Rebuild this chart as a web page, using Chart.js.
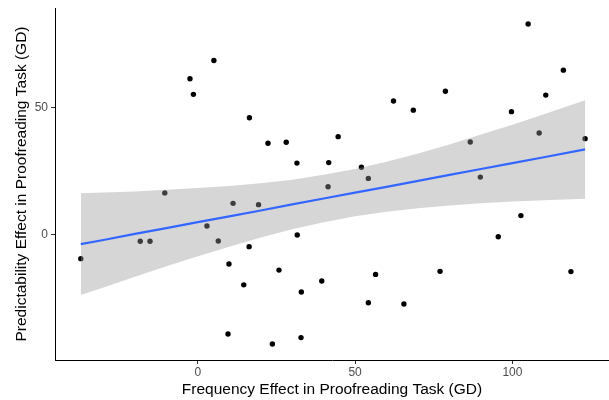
<!DOCTYPE html>
<html>
<head>
<meta charset="utf-8">
<script src="https://cdn.jsdelivr.net/npm/chart.js@4/dist/chart.umd.min.js"></script>
<style>
html,body{margin:0;padding:0;background:#fff;}
#wrap{width:609px;height:400px;}
</style>
</head>
<body>
<div id="wrap"><canvas id="c" width="609" height="400"></canvas></div>
<script>
// Observed data points (frequency effect, predictability effect)
const freqEffect = [5.1,-2.5,-1.4,16.4,22.3,28.1,31.5,41.6,-10.5,41.4,105.0,116.2,110.6,78.7,62.2,68.5,99.7,44.6,108.5,86.6,123.1,52.0,54.2,89.8,11.2,19.3,2.9,-18.3,-15.2,6.5,-37.2,31.6,16.3,9.9,25.8,14.6,32.9,39.4,9.6,23.7,32.8,56.5,54.2,65.5,77.0,95.5,102.7,118.6];
const predEffect = [68.4,61.2,55.1,45.9,35.9,36.3,28.1,28.3,16.4,18.8,82.7,64.6,54.8,56.3,52.5,48.9,48.3,38.5,39.9,36.4,37.7,26.5,22.1,22.6,12.3,11.8,3.4,-2.6,-2.6,-2.5,-9.4,-0.1,-4.7,-11.5,-13.9,-19.7,-22.5,-18.2,-39.0,-42.9,-40.4,-15.6,-26.7,-27.2,-14.4,-0.8,7.5,-14.5];

// Fitted line and confidence band
const fitX   = [-37.2,-30,-20,-10,0,10,20,30,40,50,60,70,80,90,100,110,123.1];
const fitY   = [-3.7,-2.1,0.3,2.6,4.9,7.2,9.5,11.9,14.2,16.5,18.8,21.1,23.5,25.8,28.1,30.4,33.5];
const bandLo = [-23.7,-20.7,-16.5,-12.4,-8.5,-4.7,-1.1,2.1,4.9,7.2,9.0,10.4,11.5,12.3,13.0,13.5,14.1];
const bandHi = [16.3,16.6,17.0,17.6,18.3,19.1,20.2,21.6,23.5,25.8,28.6,31.9,35.4,39.3,43.2,47.3,52.8];

const xTicks = [0,50,100];
const yTicks = [0,50];

const xTitle = 'Frequency Effect in Proofreading Task (GD)';
const yTitle = 'Predictability Effect in Proofreading Task (GD)';

const pts = freqEffect.map((x,i)=>({x:x,y:predEffect[i]}));
const toXY = (ys)=>fitX.map((x,i)=>({x:x,y:ys[i]}));

const FONT = '"Liberation Sans", Arial, Helvetica, sans-serif';

// Panel placement within the canvas
const panel = {left:55, right:609, top:8, bottom:360};

const panelPlugin = {
  id:'panelFix',
  afterLayout(chart){
    const a = chart.chartArea;
    a.left = panel.left; a.right = panel.right; a.top = panel.top; a.bottom = panel.bottom;
    a.width = a.right - a.left; a.height = a.bottom - a.top;
    const x = chart.scales.x, y = chart.scales.y;
    x.left = panel.left; x.right = panel.right; x.width = panel.right - panel.left;
    x.configure();
    y.top = panel.top; y.bottom = panel.bottom; y.height = panel.bottom - panel.top;
    y.configure();
  }
};

new Chart(document.getElementById('c'), {
  type: 'scatter',
  data: {
    datasets: [
      {label:'points', data: pts, backgroundColor:'#000', borderColor:'#000', pointRadius:2.7, pointBorderWidth:0, order:4},
      {label:'lo', data: toXY(bandLo), showLine:true, pointRadius:0, borderWidth:0, borderColor:'rgba(0,0,0,0)', fill:false, order:3},
      {label:'hi', data: toXY(bandHi), showLine:true, pointRadius:0, borderWidth:0, borderColor:'rgba(0,0,0,0)', backgroundColor:'rgba(153,153,153,0.4)', fill:'-1', order:2},
      {label:'fit', data: toXY(fitY), showLine:true, pointRadius:0, borderWidth:2.2, borderColor:'#3366FF', fill:false, order:1}
    ]
  },
  plugins:[panelPlugin],
  options: {
    responsive:false,
    animation:false,
    devicePixelRatio:1,
    layout:{padding:{top:8,left:0,right:0,bottom:0}},
    plugins:{legend:{display:false}, tooltip:{enabled:false}, filler:{propagate:false}},
    scales:{
      x:{
        type:'linear', min:-45.4, max:130.7,
        afterBuildTicks:(s)=>{ s.ticks = xTicks.map(v=>({value:v})); },
        afterFit:(s)=>{ s.height = 40; },
        grid:{drawOnChartArea:false, drawTicks:true, tickLength:4, tickColor:'#333', tickWidth:1},
        border:{display:true, color:'#000', width:1},
        ticks:{color:'#4d4d4d', font:{family:FONT, size:12}, padding:1, autoSkip:false, maxRotation:0},
        title:{display:true, text:xTitle, color:'#000', font:{family:FONT, size:15.5}, padding:{top:0,bottom:0.5}}
      },
      y:{
        type:'linear', min:-49.2, max:89.0,
        afterBuildTicks:(s)=>{ s.ticks = yTicks.map(v=>({value:v})); },
        afterFit:(s)=>{ s.width = 55; },
        grid:{drawOnChartArea:false, drawTicks:true, tickLength:4, tickColor:'#333', tickWidth:1},
        border:{display:true, color:'#000', width:1},
        ticks:{color:'#4d4d4d', font:{family:FONT, size:12}, padding:3},
        title:{display:true, text:yTitle, color:'#000', font:{family:FONT, size:15.5}, padding:{top:12,bottom:0}}
      }
    }
  }
});
</script>
</body>
</html>
